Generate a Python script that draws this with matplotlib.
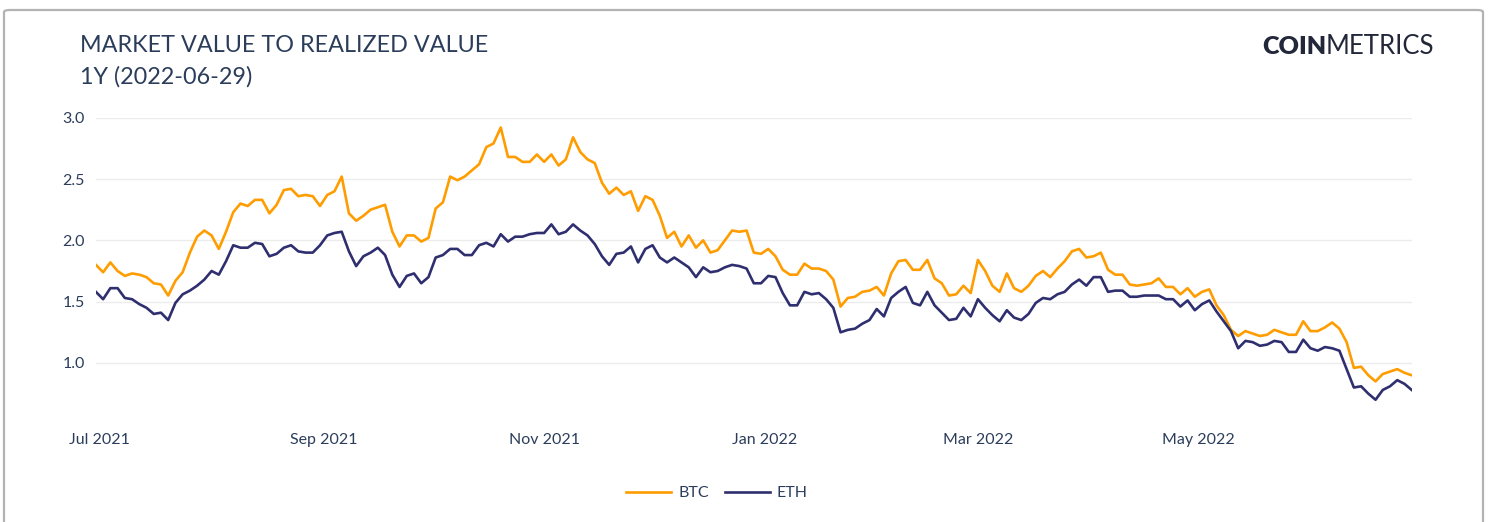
import matplotlib.dates as mdates
import matplotlib.pyplot as plt
import pandas as pd
from matplotlib.patches import FancyBboxPatch

plt.rcParams['font.family'] = ['Lato', 'DejaVu Sans']

START_DATE = '2021-06-30'
END_DATE = '2022-06-29'

btc_mvrv = [
    1.80, 1.74, 1.82, 1.75, 1.71, 1.73, 1.72, 1.70, 1.65, 1.64, 1.55, 1.67, 1.74, 1.90, 2.03, 2.08,
    2.04, 1.93, 2.07, 2.23, 2.30, 2.28, 2.33, 2.33, 2.22, 2.29, 2.41, 2.42, 2.36, 2.37, 2.36,
    2.28, 2.37, 2.40, 2.52, 2.22, 2.16, 2.20, 2.25, 2.27, 2.29, 2.07, 1.95, 2.04, 2.04, 1.99,
    2.02, 2.26, 2.31, 2.52, 2.49, 2.52, 2.57, 2.62, 2.76, 2.79, 2.92, 2.68, 2.68, 2.64, 2.64,
    2.70, 2.64, 2.70, 2.61, 2.66, 2.84, 2.72, 2.66, 2.63, 2.47, 2.38, 2.43, 2.37, 2.40, 2.24,
    2.36, 2.33, 2.20, 2.02, 2.07, 1.95, 2.04, 1.94, 2.00, 1.90, 1.92, 2.00, 2.08, 2.07, 2.08, 1.90,
    1.89, 1.93, 1.87, 1.76, 1.72, 1.72, 1.81, 1.77, 1.77, 1.75, 1.68, 1.46, 1.53, 1.54, 1.58,
    1.59, 1.62, 1.55, 1.73, 1.83, 1.84, 1.76, 1.76, 1.84, 1.69, 1.65, 1.55, 1.56, 1.63, 1.57,
    1.84, 1.75, 1.63, 1.58, 1.73, 1.61, 1.58, 1.63, 1.71, 1.75, 1.70, 1.77, 1.83, 1.91, 1.93,
    1.86, 1.87, 1.90, 1.76, 1.72, 1.72, 1.64, 1.63, 1.64, 1.65, 1.69, 1.62, 1.62, 1.56, 1.61, 1.54,
    1.58, 1.60, 1.47, 1.39, 1.27, 1.22, 1.26, 1.24, 1.22, 1.23, 1.27, 1.25, 1.23, 1.23, 1.34,
    1.26, 1.26, 1.29, 1.33, 1.28, 1.17, 0.96, 0.97, 0.90, 0.85, 0.91, 0.93, 0.95, 0.92, 0.90,
]

eth_mvrv = [
    1.58, 1.52, 1.61, 1.61, 1.53, 1.52, 1.48, 1.45, 1.40, 1.41, 1.35, 1.49, 1.56, 1.59, 1.63, 1.68,
    1.75, 1.72, 1.83, 1.96, 1.94, 1.94, 1.98, 1.97, 1.87, 1.89, 1.94, 1.96, 1.91, 1.90, 1.90,
    1.96, 2.04, 2.06, 2.07, 1.91, 1.79, 1.87, 1.90, 1.94, 1.88, 1.72, 1.62, 1.71, 1.73, 1.65,
    1.70, 1.86, 1.88, 1.93, 1.93, 1.88, 1.88, 1.96, 1.98, 1.95, 2.05, 1.99, 2.03, 2.03, 2.05,
    2.06, 2.06, 2.13, 2.05, 2.07, 2.13, 2.08, 2.04, 1.97, 1.87, 1.80, 1.89, 1.90, 1.95, 1.82,
    1.93, 1.96, 1.86, 1.82, 1.86, 1.82, 1.78, 1.70, 1.78, 1.74, 1.75, 1.78, 1.80, 1.79, 1.77, 1.65,
    1.65, 1.71, 1.70, 1.57, 1.47, 1.47, 1.58, 1.56, 1.57, 1.52, 1.45, 1.25, 1.27, 1.28, 1.32,
    1.35, 1.44, 1.38, 1.53, 1.58, 1.62, 1.49, 1.47, 1.58, 1.47, 1.41, 1.35, 1.36, 1.45, 1.38,
    1.52, 1.45, 1.39, 1.34, 1.43, 1.37, 1.35, 1.40, 1.49, 1.53, 1.52, 1.56, 1.58, 1.64, 1.68,
    1.63, 1.70, 1.70, 1.58, 1.59, 1.59, 1.54, 1.54, 1.55, 1.55, 1.55, 1.52, 1.52, 1.46, 1.51, 1.43,
    1.48, 1.51, 1.42, 1.34, 1.26, 1.12, 1.18, 1.17, 1.14, 1.15, 1.18, 1.17, 1.09, 1.09, 1.19,
    1.12, 1.10, 1.13, 1.12, 1.10, 0.95, 0.80, 0.81, 0.75, 0.70, 0.78, 0.81, 0.86, 0.83, 0.78,
]

series_names = ['BTC', 'ETH']
series_colors = ['#ff9c00', '#2f2f70']
y_ticks = [1.0, 1.5, 2.0, 2.5, 3.0]

TEXT_COLOR = '#2b3d5b'

dates = pd.date_range(START_DATE, END_DATE, freq='2D')

fig = plt.figure(figsize=(14.9, 5.22), dpi=100)

# Card border around the whole chart
border = FancyBboxPatch((4 / 1490, -0.05), 1479 / 1490, 1.05 - 10 / 522,
                        boxstyle='round,pad=0,rounding_size=0.004',
                        transform=fig.transFigure, fill=False,
                        edgecolor='#b3b3b3', linewidth=1.6)
fig.add_artist(border)

ax = fig.add_axes([95.9 / 1490, 1 - 424.3 / 522, 1315.8 / 1490, 306.6 / 522])

for name, values, color in zip(series_names, [btc_mvrv, eth_mvrv], series_colors):
    ax.plot(dates, values, color=color, linewidth=1.9, label=name, solid_joinstyle='round')

ax.set_xlim(dates[0], dates[-1])
ax.set_ylim(0.5, 3.0)
ax.set_yticks(y_ticks)
ax.yaxis.set_major_formatter(plt.FuncFormatter(lambda v, _: f'{v:.1f}'))
ax.xaxis.set_major_locator(mdates.MonthLocator(bymonth=[1, 3, 5, 7, 9, 11]))
ax.xaxis.set_major_formatter(mdates.DateFormatter('%b %Y'))

ax.grid(axis='y', color='#ececec', linewidth=1)
ax.set_axisbelow(True)
for spine in ax.spines.values():
    spine.set_visible(False)
ax.tick_params(axis='both', length=0, labelsize=11.5, labelcolor=TEXT_COLOR)
ax.tick_params(axis='x', pad=6)
ax.tick_params(axis='y', pad=8)

# Titles and logo
fig.text(80 / 1490, 1 - 46 / 522, 'MARKET VALUE TO REALIZED VALUE',
         fontsize=16.8, color=TEXT_COLOR, va='center', ha='left')
fig.text(80 / 1490, 1 - 77 / 522, '1Y (2022-06-29)',
         fontsize=16.8, color=TEXT_COLOR, va='center', ha='left')
logo_bold = fig.text(1262 / 1490, 1 - 47 / 522, 'COIN', fontsize=18, fontweight='heavy',
                     color='#23273a', va='center', ha='left')
fig.canvas.draw()
bb = logo_bold.get_window_extent()
fig.text(bb.x1 / 1490, 1 - 47 / 522, 'METRICS', fontsize=18.5, fontweight='normal',
         color='#23273a', va='center', ha='left')

fig.legend(loc='center', bbox_to_anchor=(717 / 1490, 1 - 493 / 522), ncol=2,
           frameon=False, fontsize=11.5, handlelength=2.8, handletextpad=0.45,
           columnspacing=1.0, labelcolor=TEXT_COLOR)

fig.savefig('out.png', dpi=100)
